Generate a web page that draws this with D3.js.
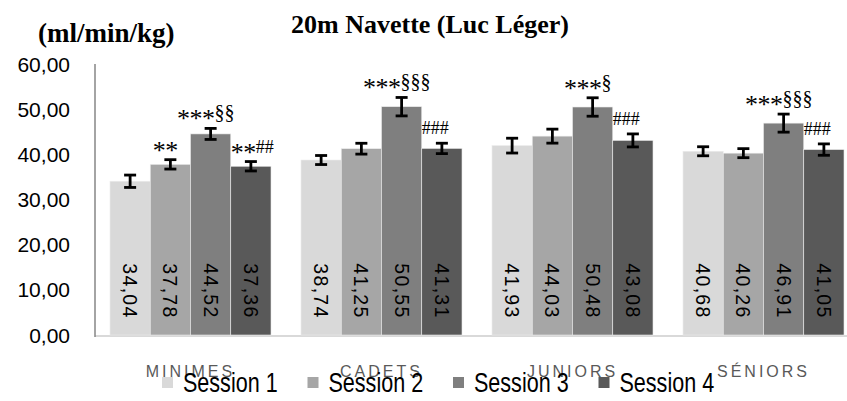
<!DOCTYPE html>
<html>
<head>
<meta charset="utf-8">
<script src="https://cdn.jsdelivr.net/npm/d3@7"></script>
<style>
  body { margin: 0; background: #fff; }
  svg { display: block; }
</style>
</head>
<body>
<div id="chart"></div>
<script>
// data
const categories = ["MINIMES", "CADETS", "JUNIORS", "SÉNIORS"];
const seriesNames = ["Session 1", "Session 2", "Session 3", "Session 4"];
const session1 = [34.04, 38.74, 41.93, 40.68];
const session2 = [37.78, 41.25, 44.03, 40.26];
const session3 = [44.52, 50.55, 50.48, 46.91];
const session4 = [37.36, 41.31, 43.08, 41.05];
const err1 = [1.37, 1.0, 1.64, 1.0];
const err2 = [1.04, 1.2, 1.55, 1.0];
const err3 = [1.22, 2.04, 2.04, 2.0];
const err4 = [1.04, 1.15, 1.44, 1.26];
const yTicks = [0, 10, 20, 30, 40, 50, 60];
// significance marks: [category index, session index, text]
const marks = [
  [0, 1, "**"], [0, 2, "***§§"], [0, 3, "**##"],
  [1, 2, "***§§§"], [1, 3, "###"],
  [2, 2, "***§"], [2, 3, "###"],
  [3, 2, "***§§§"], [3, 3, "###"]
];

const colors = ["#d9d9d9", "#a6a6a6", "#7f7f7f", "#595959"];
const values = [session1, session2, session3, session4];
const errs = [err1, err2, err3, err4];

const width = 847, height = 401;
const margin = {top: 64, left: 95, bottom: 66};
const fmt = v => d3.format(".2f")(v).replace(".", ",");

const svg = d3.select("#chart").append("svg")
  .attr("width", width)
  .attr("height", height);

svg.append("rect").attr("width", width).attr("height", height).attr("fill", "#fff");

const y = d3.scaleLinear().domain([0, 60]).range([height - margin.bottom, margin.top]);
// the plot runs past the right edge of the picture
const x0 = d3.scaleBand().domain(categories)
  .range([margin.left, margin.left + 4 * 191])
  .paddingInner(0.157).paddingOuter(0.0785);
const x1 = d3.scaleBand().domain(seriesNames).range([0, x0.bandwidth()]);

// table for the bars
const table = [];
categories.forEach((c, i) => {
  seriesNames.forEach((s, j) => {
    table.push({cat: c, ci: i, series: s, si: j, value: values[j][i], err: errs[j][i]});
  });
});

// x baseline
svg.append("line")
  .attr("x1", margin.left).attr("x2", width)
  .attr("y1", y(0) + 1).attr("y2", y(0) + 1)
  .attr("stroke", "#d9d9d9").attr("stroke-width", 2);

// bars
svg.selectAll(".bar").data(table).enter().append("rect")
  .attr("class", "bar")
  .attr("x", d => x0(d.cat) + x1(d.series))
  .attr("y", d => y(d.value))
  .attr("width", x1.bandwidth())
  .attr("height", d => y(0) - y(d.value))
  .attr("fill", d => colors[d.si])
  .attr("stroke", "#ececec")
  .attr("stroke-width", 0.6);

// value labels, rotated
svg.selectAll(".vlab").data(table).enter().append("text")
  .attr("class", "vlab")
  .attr("transform", d => `translate(${x0(d.cat) + x1(d.series) + x1.bandwidth() / 2}, ${y(0) - 44}) rotate(90)`)
  .attr("text-anchor", "middle")
  .attr("dominant-baseline", "central")
  .attr("font-family", "Liberation Sans, Arial, sans-serif")
  .attr("font-size", 19.5)
  .attr("letter-spacing", 1.3)
  .attr("fill", "#000")
  .text(d => fmt(d.value));

// error bars
const eb = svg.selectAll(".eb").data(table).enter().append("g")
  .attr("class", "eb")
  .attr("transform", d => `translate(${x0(d.cat) + x1(d.series) + x1.bandwidth() / 2}, 0)`)
  .attr("stroke", "#000").attr("stroke-width", 2.8);
eb.append("line").attr("y1", d => y(d.value + d.err)).attr("y2", d => y(d.value - d.err));
eb.append("line").attr("x1", -6).attr("x2", 6).attr("y1", d => y(d.value + d.err)).attr("y2", d => y(d.value + d.err));
eb.append("line").attr("x1", -6).attr("x2", 6).attr("y1", d => y(d.value - d.err)).attr("y2", d => y(d.value - d.err));

// significance marks
const isHash = s => s.endsWith("#");
const markText = svg.selectAll(".mark").data(marks).enter().append("text")
  .attr("class", "mark")
  .attr("font-family", "Liberation Serif, Times New Roman, serif")
  .attr("fill", "#000")
  .attr("x", d => {
    const bx = x0(categories[d[0]]) + x1(seriesNames[d[1]]);
    return isHash(d[2]) ? bx : bx + x1.bandwidth() / 2 - 5;
  })
  .attr("y", d => y(values[d[1]][d[0]] + errs[d[1]][d[0]]) - 9)
  .attr("text-anchor", d => isHash(d[2]) ? "start" : "middle");
markText.each(function(d) {
  const parts = d[2].match(/\*+|§+|#+/g);
  const t = d3.select(this);
  let shifted = 0;
  parts.forEach(p => {
    const star = p[0] === "*";
    const dy = (star ? 8 : 0) - shifted;
    shifted += dy;
    t.append("tspan")
      .attr("dy", dy)
      .attr("font-size", star ? 26 : (p[0] === "#" ? 18 : 20))
      .attr("letter-spacing", star ? -0.5 : 0)
      .text(p);
  });
});

// y axis
svg.append("line")
  .attr("x1", margin.left).attr("x2", margin.left)
  .attr("y1", y(60)).attr("y2", y(0) + 2)
  .attr("stroke", "#868686").attr("stroke-width", 1.5);
svg.selectAll(".ytick").data(yTicks).enter().append("text")
  .attr("class", "ytick")
  .attr("x", 70)
  .attr("y", d => y(d))
  .attr("text-anchor", "end")
  .attr("dominant-baseline", "central")
  .attr("font-family", "Liberation Sans, Arial, sans-serif")
  .attr("font-size", 21)
  .attr("fill", "#000")
  .text(d => fmt(d));

// category labels
svg.selectAll(".cat").data(categories).enter().append("text")
  .attr("class", "cat")
  .attr("x", d => x0(d) + x0.bandwidth() / 2)
  .attr("y", 377)
  .attr("text-anchor", "middle")
  .attr("font-family", "Liberation Sans, Arial, sans-serif")
  .attr("font-size", 16)
  .attr("letter-spacing", 3)
  .attr("fill", "#595959")
  .text(d => d);

// legend
const legend = svg.selectAll(".leg").data(seriesNames).enter().append("g")
  .attr("class", "leg")
  .attr("transform", (d, i) => `translate(${162 + i * 145.5}, 377)`);
legend.append("rect").attr("width", 11).attr("height", 11).attr("fill", (d, i) => colors[i]);
legend.append("text")
  .attr("transform", "translate(21, 15) scale(0.77, 1)")
  .attr("font-family", "Liberation Sans, Arial, sans-serif")
  .attr("font-size", 28)
  .attr("fill", "#000")
  .text(d => d);

// titles
svg.append("text")
  .attr("x", 430).attr("y", 33)
  .attr("text-anchor", "middle")
  .attr("font-family", "Liberation Serif, Times New Roman, serif")
  .attr("font-weight", "bold")
  .attr("font-size", 26)
  .text("20m Navette (Luc Léger)");
svg.append("text")
  .attr("x", 38).attr("y", 42)
  .attr("font-family", "Liberation Serif, Times New Roman, serif")
  .attr("font-weight", "bold")
  .attr("font-size", 27)
  .text("(ml/min/kg)");
</script>
</body>
</html>
